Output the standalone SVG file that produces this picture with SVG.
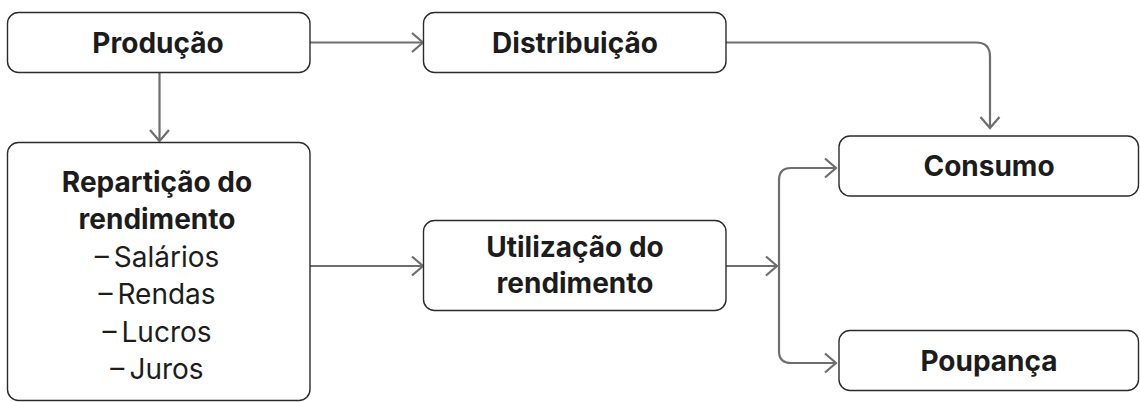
<svg xmlns="http://www.w3.org/2000/svg" width="1140" height="402" viewBox="0 0 1140 402">
<defs>
<style>
.box{fill:#fff;stroke:#2b2b2b;stroke-width:1.4}
.b{font-family:Inter,"Liberation Sans",sans-serif;font-weight:700;font-size:28px;fill:#1c1c1c;text-anchor:middle}
.r{font-family:Inter,"Liberation Sans",sans-serif;font-weight:400;font-size:28px;fill:#1c1c1c;text-anchor:middle}
.c{fill:none;stroke:#6e6e6e;stroke-width:2.2;marker-end:url(#ah)}
</style>
<marker id="ah" markerUnits="userSpaceOnUse" markerWidth="24" markerHeight="24" viewBox="-13 -12 15 24" refX="0" refY="0" orient="auto">
<path d="M-11,-9.5 L0,0 L-11,9.5" fill="none" stroke="#6e6e6e" stroke-width="2.2"/>
</marker>
</defs>
<rect width="1140" height="402" fill="#fff"/>
<g id="connectors">
<path class="c" d="M310,42.5 H423"/>
<path class="c" d="M159.5,73 V141"/>
<path class="c" d="M726,42.5 H976 Q990,42.5 990,56.5 V128"/>
<path class="c" d="M310,266 H423"/>
<path class="c" d="M726,266 H777"/>
<path class="c" d="M779,266 V180 Q779,168 791,168 H836"/>
<path class="c" d="M779,266 V351 Q779,363 791,363 H836"/>
</g>
<g id="producao">
<rect class="box" x="7.5" y="12.5" width="302.5" height="60" rx="11"/>
<text class="b" x="158" y="53">Produção</text>
</g>
<g id="distribuicao">
<rect class="box" x="423.5" y="12.5" width="302.5" height="60" rx="11"/>
<text class="b" x="575" y="53">Distribuição</text>
</g>
<g id="reparticao">
<rect class="box" x="7.5" y="142.5" width="302.5" height="258" rx="11"/>
<text class="b" x="157" y="191.5">Repartição do</text>
<text class="b" x="157" y="229">rendimento</text>
<text class="r" x="157" y="266.5">–&#8201;Salários</text>
<text class="r" x="157" y="304">–&#8201;Rendas</text>
<text class="r" x="157" y="341.5">–&#8201;Lucros</text>
<text class="r" x="157" y="379">–&#8201;Juros</text>
</g>
<g id="utilizacao">
<rect class="box" x="423.5" y="220.5" width="302.5" height="90" rx="11"/>
<text class="b" x="575" y="257">Utilização do</text>
<text class="b" x="575" y="293">rendimento</text>
</g>
<g id="consumo">
<rect class="box" x="839" y="136" width="299.5" height="60" rx="11"/>
<text class="b" x="989" y="176">Consumo</text>
</g>
<g id="poupanca">
<rect class="box" x="839" y="330.5" width="299.5" height="60" rx="11"/>
<text class="b" x="989" y="370.5">Poupança</text>
</g>
</svg>
